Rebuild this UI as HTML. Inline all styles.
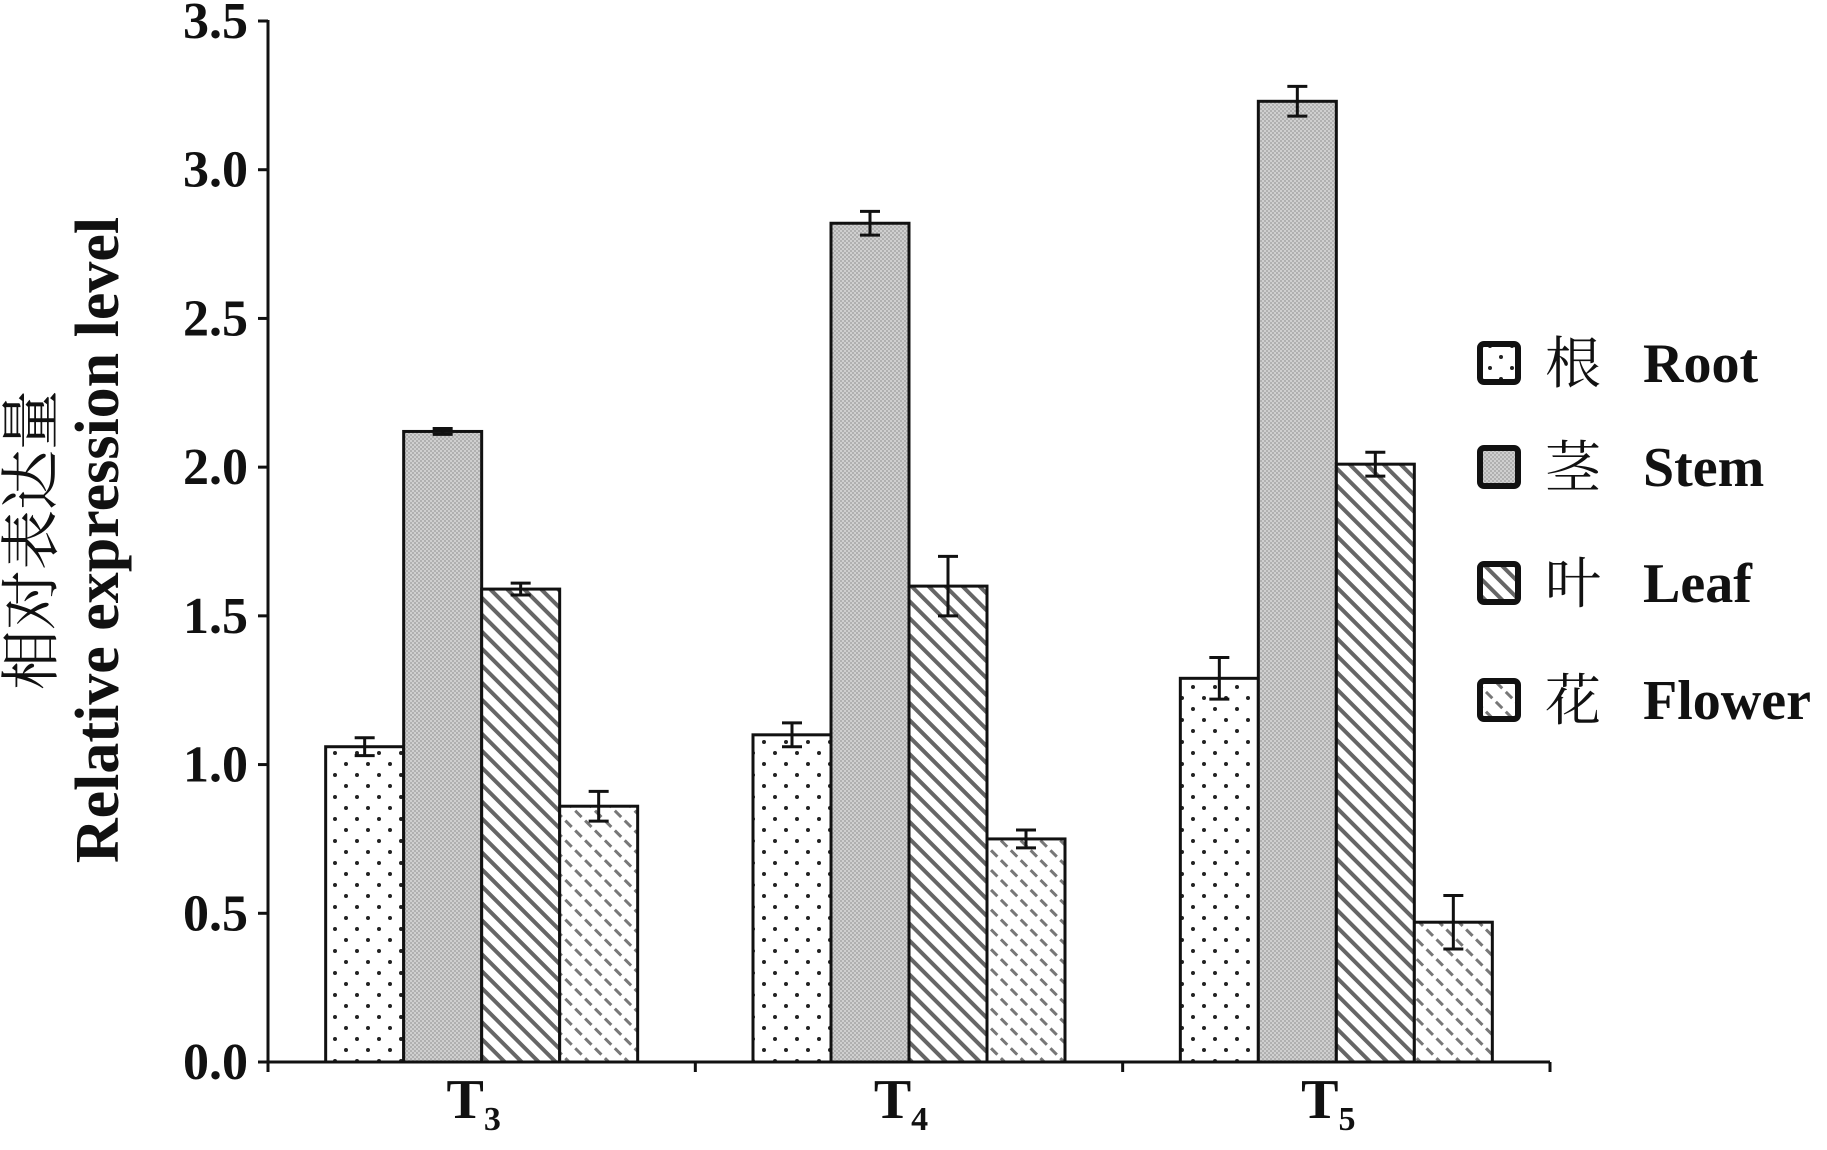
<!DOCTYPE html>
<html><head><meta charset="utf-8"><style>
html,body{margin:0;padding:0;background:#fff;}
svg{display:block;}
text{font-family:"Liberation Serif","Noto Serif CJK SC","Noto Sans CJK SC",serif;fill:#111;}
</style></head><body>
<svg id="chart" width="1827" height="1150" viewBox="0 0 1827 1150">
<defs>
<pattern id="p-root" width="22" height="22" patternUnits="userSpaceOnUse"><rect width="22" height="22" fill="#fff"/><circle cx="5" cy="5" r="2" fill="#222"/><circle cx="16" cy="16" r="2" fill="#222"/></pattern>
<pattern id="p-stem" width="4" height="4" patternUnits="userSpaceOnUse"><rect width="4" height="4" fill="#cfcfcf"/><rect width="2" height="2" fill="#b0b0b0"/><rect x="2" y="2" width="2" height="2" fill="#b0b0b0"/></pattern>
<pattern id="p-leaf" width="12" height="12" patternUnits="userSpaceOnUse" patternTransform="rotate(-45)"><rect width="12" height="12" fill="#fff"/><rect x="0" y="0" width="4" height="12" fill="#666"/></pattern>
<pattern id="p-flower" width="14" height="14" patternUnits="userSpaceOnUse" patternTransform="rotate(-45)"><rect width="14" height="14" fill="#fff"/><rect x="0" y="0" width="3" height="9" fill="#777"/></pattern>
</defs>
<g id="axes"></g>
<g id="bars"></g>
<g id="legend"></g>
<text x="52" y="540" font-size="60" transform="rotate(-90 52 540)" text-anchor="middle">相对表达量</text>
<text x="118" y="540" font-size="62" font-weight="bold" transform="rotate(-90 118 540)" text-anchor="middle">Relative expression level</text>
</svg>
<script>
const groups = ["3","4","5"];
const series = ["Root","Stem","Leaf","Flower"];
const seriesCn = ["根","茎","叶","花"];
const rootVals = [1.06,1.10,1.29];
const stemVals = [2.12,2.82,3.23];
const leafVals = [1.59,1.60,2.01];
const flowerVals = [0.86,0.75,0.47];
const rootErr = [0.03,0.04,0.07];
const stemErr = [0.01,0.04,0.05];
const leafErr = [0.02,0.10,0.04];
const flowerErr = [0.05,0.03,0.09];
const yTicks = ["0.0","0.5","1.0","1.5","2.0","2.5","3.0","3.5"];

const NS="http://www.w3.org/2000/svg";
const X0=268,X1=1550,Y0=1062,Y1=21,YMAX=3.5;
const y=v=>Y0-(v/YMAX)*(Y0-Y1);
const groupW=(X1-X0)/groups.length;
const barW=78;
const gx=i=>X0+groupW*(i+0.5);
function mk(tag,attrs,parent){const e=document.createElementNS(NS,tag);for(const k in attrs)e.setAttribute(k,attrs[k]);parent.appendChild(e);return e;}
const axes=document.getElementById('axes'),bars=document.getElementById('bars'),legend=document.getElementById('legend');
let e=mk('line',{x1:X0,y1:Y0,x2:X0,y2:Y1-1,stroke:'#111','stroke-width':3},axes);


e=mk('line',{x1:X0,y1:Y0,x2:X1,y2:Y0,stroke:'#111','stroke-width':3},axes);


yTicks.forEach(t=>{const v=parseFloat(t);const yy=y(v);
 let l=mk('line',{x1:X0-10,y1:yy,x2:X0,y2:yy,stroke:'#111','stroke-width':3},axes);
 
 
 let tx=mk('text',{x:X0-20,y:yy+17,'font-size':52,'font-weight':'bold','text-anchor':'end'},axes);tx.textContent=t;
 
 
});
for(let i=0;i<=groups.length;i++){const xx=X0+groupW*i;
 let l=mk('line',{x1:xx,y1:Y0,x2:xx,y2:Y0+10,stroke:'#111','stroke-width':3},axes);
 
 
}
groups.forEach((g,i)=>{
 let tx=mk('text',{x:gx(i)-8,y:1118,'font-size':56,'font-weight':'bold','text-anchor':'middle'},axes);
 tx.textContent='T';
 const s=mk('tspan',{'font-size':34,dy:12},tx);s.textContent=g;
 
 
});
const vals=[rootVals,stemVals,leafVals,flowerVals];
const errs=[rootErr,stemErr,leafErr,flowerErr];
const fills=['url(#p-root)','url(#p-stem)','url(#p-leaf)','url(#p-flower)'];
groups.forEach((g,i)=>{
 series.forEach((s,j)=>{
  const v=vals[j][i],er=errs[j][i];
  const x=gx(i)-2*barW+j*barW;
  let r=mk('rect',{x:x,y:y(v),width:barW,height:Y0-y(v),fill:fills[j],stroke:'#111','stroke-width':3},bars);
  
  
  const cx=x+barW/2;
  let p=mk('path',{d:`M${cx-10},${y(v+er)}H${cx+10}M${cx},${y(v+er)}V${y(v-er)}M${cx-10},${y(v-er)}H${cx+10}`,stroke:'#111','stroke-width':3,fill:'none'},bars);
  
  
 });
});
const ly=[363,467,583,700];
series.forEach((s,j)=>{
 const gg=mk('g',{},legend);
 
 
 mk('rect',{x:1480,y:ly[j]-19,width:38,height:38,rx:4,fill:fills[j],stroke:'#111','stroke-width':6},gg);
 let c=mk('text',{x:1545,y:ly[j]+20,'font-size':56},gg);c.textContent=seriesCn[j];
 let t=mk('text',{x:1643,y:ly[j]+19,'font-size':56,'font-weight':'bold'},gg);t.textContent=s;
});
</script>
</body></html>
